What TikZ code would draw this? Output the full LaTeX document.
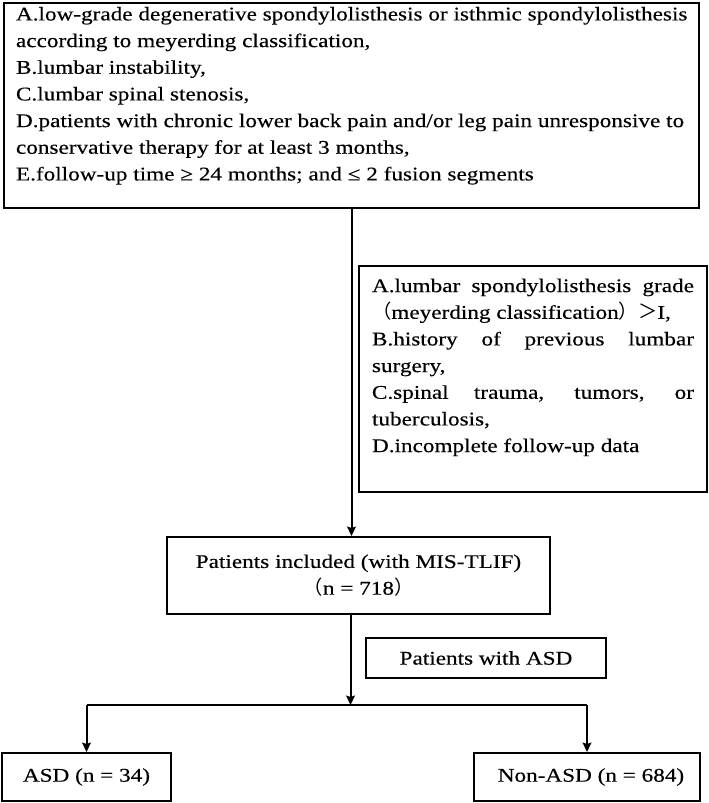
\documentclass[tikz,border=0pt]{standalone}
\usepackage{fontspec}
\setmainfont{Liberation Serif}[FakeStretch=1.2, FakeBold=0.3]
\newfontfamily\cjk{Noto Sans CJK SC}
\usetikzlibrary{arrows.meta,positioning}

\begin{document}
\begin{tikzpicture}[
	x=0.75pt, y=-0.75pt,
	box/.style  = {draw, rectangle, line width=1.5pt, font=\fontsize{14.5}{20}\selectfont},
	crit/.style = {box, anchor=north west},
	cnt/.style  = {box, align=center, inner sep=0pt},
	line/.style = {line width=1.5pt},
	>={Stealth[length=7pt,width=6.5pt,inset=1pt]}]

	\useasboundingbox (0,0) rectangle (708,803);

	% inclusion criteria
	\node[crit, inner xsep=4pt, inner ysep=3pt] (incl) at (3,2) {\begin{minipage}[t][147.75pt][t]{513.25pt}\raggedright\leftskip=5pt\hyphenpenalty=10000
		A.low-grade degenerative spondylolisthesis or isthmic spondylolisthesis\\
		according to meyerding classification,\\
		B.lumbar instability,\\
		C.lumbar spinal stenosis,\\
		D.patients with chronic lower back pain and/or leg pain unresponsive to\\
		conservative therapy for at least 3 months,\\
		E.follow-up time ≥ 24 months; and ≤ 2 fusion segments
	\end{minipage}};

	% exclusion criteria, beside the main line
	\node[crit, inner xsep=9.75pt, inner ysep=9.5pt] (excl) at (358,265) {\begin{minipage}[t][150.5pt][t]{241.5pt}\hyphenpenalty=10000
		A.lumbar spondylolisthesis grade\linebreak {\cjk （}meyerding classification{\cjk ）}{\cjk ＞}I,\par
		B.history of previous lumbar\linebreak surgery,\par
		C.spinal trauma, tumors, or\linebreak tuberculosis,\par
		D.incomplete follow-up data
	\end{minipage}};

	% the cohort and its split
	\node[cnt, minimum width=287.25pt, minimum height=57.75pt] (pats) at (358.5,575.5) {Patients included (with MIS-TLIF)\\ {\cjk （}n = 718{\cjk ）}};
	\node[cnt, minimum width=180pt, minimum height=30pt] (asdlab) at (486,658) {Patients with ASD};
	\node[cnt, minimum width=126.75pt, minimum height=36pt] (asd) at (86.5,777) {ASD (n = 34)};
	\node[cnt, minimum width=169.5pt, minimum height=36pt] (nonasd) at (587,777) {\hspace{6pt}Non-ASD (n = 684)};
	\coordinate (split) at (350.5,705);

	% lines
	\draw[line,->] (incl.south) -- (incl.south |- pats.north);
	\draw[line,->] (pats.south -| split) -- (split);
	\draw[line] (asd.north |- split) -- (nonasd.north |- split);
	\foreach \grp in {asd,nonasd}
	\draw[line,->] (\grp.north |- split) -- (\grp.north);
\end{tikzpicture}
\end{document}
